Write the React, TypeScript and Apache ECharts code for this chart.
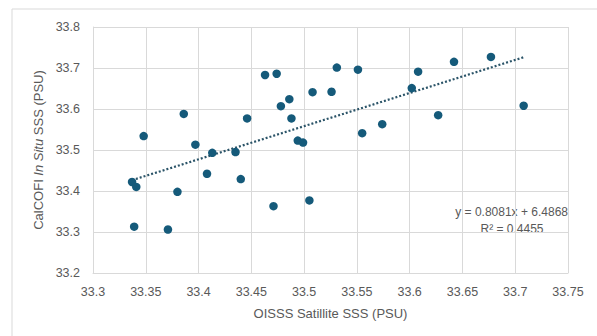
import React, { useEffect, useRef } from "react";
import * as echarts from "echarts";

const satelliteSSS: number[] = [
  33.348, 33.386, 33.397, 33.413, 33.435, 33.446, 33.463, 33.474, 33.478, 33.486, 33.488, 33.494,
  33.499, 33.508, 33.526, 33.531, 33.551, 33.555, 33.574, 33.602, 33.608, 33.627, 33.642, 33.677,
  33.708, 33.337, 33.341, 33.339, 33.371, 33.380, 33.408, 33.440, 33.471, 33.505,
];
const insituSSS: number[] = [
  33.534, 33.588, 33.513, 33.493, 33.495, 33.577, 33.683, 33.686, 33.607, 33.624, 33.577, 33.523,
  33.518, 33.641, 33.642, 33.701, 33.696, 33.541, 33.563, 33.651, 33.691, 33.585, 33.715, 33.727,
  33.608, 33.422, 33.41, 33.313, 33.306, 33.398, 33.442, 33.429, 33.363, 33.377,
];
const slope = 0.8081;
const intercept = 6.4868;
const rSquared = 0.4455;
const xTicks = { min: 33.3, max: 33.75, interval: 0.05 };
const yTicks = { min: 33.2, max: 33.8, interval: 0.1 };

export default function App() {
  const ref = useRef<HTMLDivElement>(null);
  useEffect(() => {
    if (!ref.current) return;
    const chart = echarts.init(ref.current, undefined, { renderer: "svg" });
    const points = satelliteSSS.map((x, i) => [x, insituSSS[i]]);
    const xMin = Math.min(...satelliteSSS);
    const xMax = Math.max(...satelliteSSS);
    const trend = [
      [xMin, slope * xMin + intercept],
      [xMax, slope * xMax + intercept],
    ];
    const font = "Liberation Sans";
    const grey = "#595959";
    chart.setOption({
      animation: false,
      backgroundColor: "#ffffff",
      textStyle: { fontFamily: font },
      grid: { left: 93, right: 29, top: 27, bottom: 63 },
      xAxis: {
        type: "value",
        min: xTicks.min,
        max: xTicks.max,
        interval: xTicks.interval,
        name: "OISSS Satillite SSS (PSU)",
        nameLocation: "middle",
        nameGap: 34,
        nameTextStyle: { color: grey, fontSize: 13, fontFamily: font },
        axisLine: { show: true, lineStyle: { color: "#d9d9d9", width: 1 } },
        axisTick: { show: false },
        axisLabel: {
          color: grey,
          fontSize: 12.5,
          fontFamily: font,
          margin: 12,
          formatter: (v: number) => String(parseFloat(v.toFixed(2))),
        },
        splitLine: { show: true, lineStyle: { color: "#d9d9d9", width: 1 } },
      },
      yAxis: {
        type: "value",
        min: yTicks.min,
        max: yTicks.max,
        interval: yTicks.interval,
        name: "{n|CalCOFI }{i|In Situ}{n| SSS (PSU)}",
        nameLocation: "middle",
        nameGap: 46,
        nameTextStyle: {
          color: grey,
          fontSize: 13,
          fontFamily: font,
          rich: {
            n: { color: grey, fontSize: 13, fontFamily: font },
            i: { color: grey, fontSize: 13, fontFamily: font, fontStyle: "italic" },
          },
        },
        axisLine: { show: true, lineStyle: { color: "#d9d9d9", width: 1 } },
        axisTick: { show: false },
        axisLabel: {
          color: grey,
          fontSize: 12.5,
          fontFamily: font,
          margin: 13,
          formatter: (v: number) => v.toFixed(1),
        },
        splitLine: { show: true, lineStyle: { color: "#d9d9d9", width: 1 } },
      },
      graphic: [
        {
          type: "rect",
          shape: { x: 12, y: 9, width: 620, height: 360 },
          style: { fill: "none", stroke: "#d9d9d9", lineWidth: 1 },
          silent: true,
          z: -10,
        },
        {
          type: "text",
          x: 568,
          y: 212,
          style: {
            text: `y = ${slope}x + ${intercept}`,
            fill: grey,
            font: `12px "${font}"`,
            textAlign: "right",
            textVerticalAlign: "middle",
          },
        },
        {
          type: "text",
          x: 512,
          y: 229,
          style: {
            text: `R² = ${rSquared}`,
            fill: grey,
            font: `12px "${font}"`,
            textAlign: "center",
            textVerticalAlign: "middle",
          },
        },
      ],
      series: [
        {
          type: "line",
          data: trend,
          symbol: "none",
          lineStyle: { color: "#2b5468", width: 2.2, type: [2, 2], cap: "butt" },
          z: 1,
        },
        {
          type: "scatter",
          data: points,
          symbol: "circle",
          symbolSize: 8.5,
          itemStyle: { color: "#155a7a", opacity: 1 },
          z: 2,
        },
      ],
    });
    return () => chart.dispose();
  }, []);
  return (
    <div
      ref={ref}
      style={{ position: "fixed", left: 0, top: 0, width: 597, height: 336, background: "#fff" }}
    />
  );
}
